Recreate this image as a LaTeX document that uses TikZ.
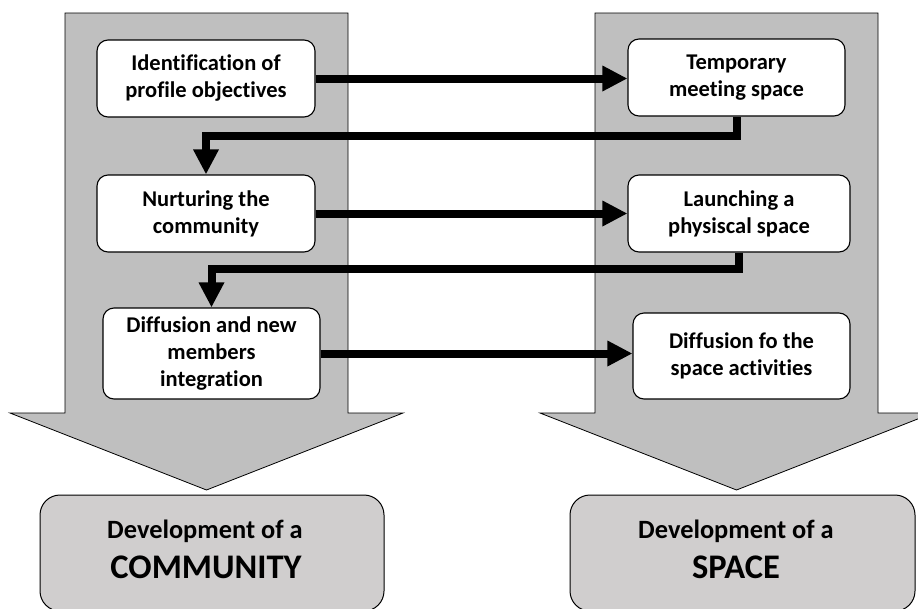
\documentclass[tikz,border=0pt]{standalone}
\usepackage{fontspec}
\setmainfont{Carlito}[Ligatures=NoCommon]
\usetikzlibrary{arrows.meta}
\definecolor{shaft}{RGB}{191,191,191}
\definecolor{goal}{RGB}{208,206,206}
\begin{document}
\begin{tikzpicture}[x=1pt,y=-1pt,
  bigarrow/.style={fill=shaft,draw=black,line width=0.8pt,line join=miter},
  stepbox/.style={draw=black,fill=white,line width=1.1pt,rounded corners=11pt,
    align=center,inner sep=0pt,font=\bfseries\fontsize{22.5}{27}\selectfont},
  goalbox/.style={draw=black,fill=goal,line width=1pt,rounded corners=20pt,inner sep=0pt},
  flow/.style={line width=8pt,line join=miter,-{Triangle[length=25pt,width=24pt]}}]
\useasboundingbox (0,0) rectangle (918,608);
\clip (0,0) rectangle (918,608);
% big arrows
\draw[bigarrow] (65,13) -- (348,13) -- (348,413) -- (403,413) -- (206.5,490) -- (10,413) -- (65,413) -- cycle;
\draw[bigarrow] (595,13) -- (878,13) -- (878,413) -- (933,413) -- (736.5,490) -- (540,413) -- (595,413) -- cycle;
% goal boxes
\node[goalbox,minimum width=344pt,minimum height=116pt] (G1) at (212,553) {};
\node[goalbox,minimum width=345pt,minimum height=116pt] (G2) at (742.5,553) {};
\node[anchor=base,font=\bfseries\fontsize{26.4}{30}\selectfont] (G1a) at (205,538) {Development of a};
\node[anchor=base,font=\bfseries\fontsize{34.5}{40}\selectfont] (G1b) at (206,578) {COMMUNITY};
\node[anchor=base,font=\bfseries\fontsize{26.4}{30}\selectfont] (G2a) at (736,538) {Development of a};
\node[anchor=base,font=\bfseries\fontsize{34.5}{40}\selectfont] (G2b) at (736,578) {SPACE};
% step boxes
\node[stepbox,minimum width=218pt,minimum height=77pt] (L1) at (206,78.5) {Identification of\\profile objectives};
\node[stepbox,minimum width=218pt,minimum height=77pt] (L2) at (206,213.5) {Nurturing the\\community};
\node[stepbox,minimum width=217pt,minimum height=91pt] (L3) at (211.5,353.5) {Diffusion and new\\members\\integration};
\node[stepbox,minimum width=217pt,minimum height=77pt] (R1) at (736.5,77.5) {Temporary\\meeting space};
\node[stepbox,minimum width=222pt,minimum height=77pt] (R2) at (739,213.5) {Launching a\\physiscal space};
\node[stepbox,minimum width=217pt,minimum height=86pt] (R3) at (741.5,356) {Diffusion fo the\\space activities};
% connectors
\draw[flow] (L1.east) -- (L1.east -| R1.west);
\draw[flow] (R1.south) -- ++(0,19) -| (L2.north);
\draw[flow] (L2.east) -- (L2.east -| R2.west);
\draw[flow] (R2.south) -- ++(0,16) -| (L3.north);
\draw[flow] (L3.east) -- (L3.east -| R3.west);
\end{tikzpicture}
\end{document}
